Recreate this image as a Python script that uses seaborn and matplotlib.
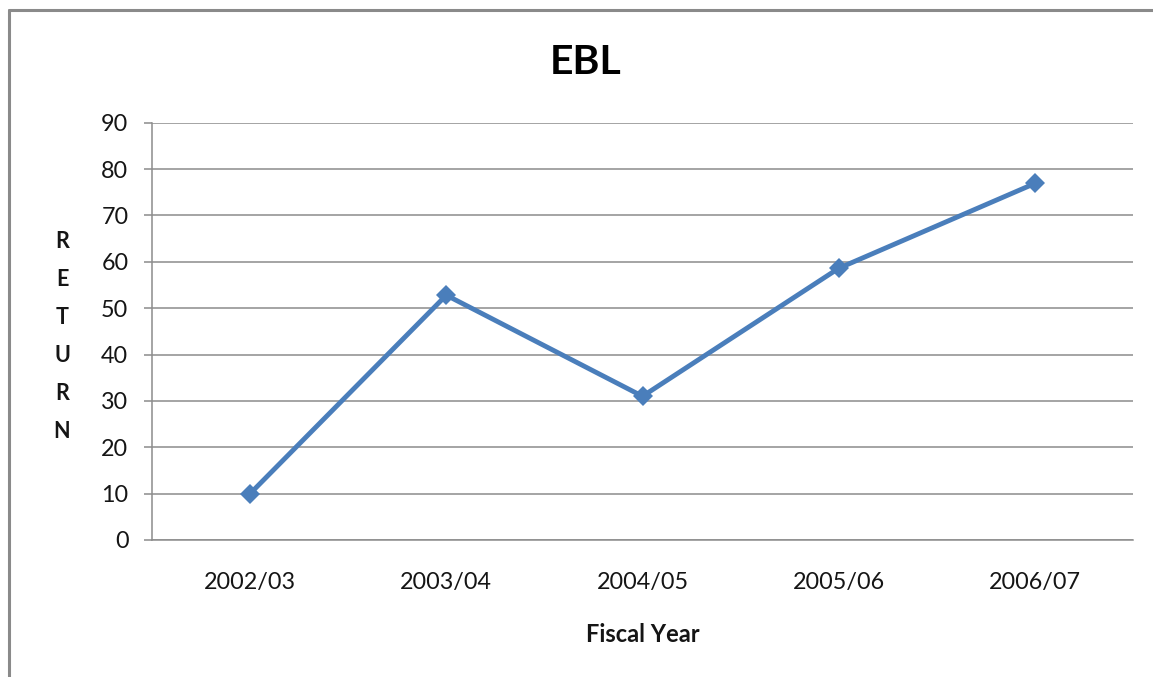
import matplotlib
matplotlib.use("Agg")
import matplotlib.pyplot as plt
from matplotlib.lines import Line2D
from matplotlib.ticker import FixedLocator
import seaborn as sns
import pandas as pd

# Annual return of EBL by fiscal year
fiscal_years = ["2002/03", "2003/04", "2004/05", "2005/06", "2006/07"]
returns = [10.0, 52.8, 31.0, 58.6, 76.9]
y_ticks = [0, 10, 20, 30, 40, 50, 60, 70, 80, 90]

sns.set_theme(style="white")
plt.rcParams["font.family"] = ["Lato", "DejaVu Sans"]

df = pd.DataFrame({"Fiscal Year": fiscal_years, "Return": returns})

fig = plt.figure(figsize=(11.53, 6.77), dpi=100)
ax = fig.add_axes([152 / 1153, 1 - 540 / 677, (1133 - 152) / 1153, (540 - 122.7) / 677])

grid_color = "#8c8c8c"
line_color = "#4a7ebb"
text_color = "#151515"

sns.lineplot(data=df, x="Fiscal Year", y="Return", ax=ax, sort=False,
             color=line_color, linewidth=3.5, marker="D", markersize=9.8,
             markeredgewidth=0, markerfacecolor=line_color, zorder=3)

ax.set_xlim(-0.5, len(fiscal_years) - 0.5)
ax.set_ylim(0, 90)
ax.set_yticks(y_ticks)
ax.yaxis.grid(True, color=grid_color, linewidth=1.1)
ax.xaxis.grid(False)

for side in ("top", "right"):
    ax.spines[side].set_visible(False)
for side in ("left", "bottom"):
    ax.spines[side].set_color(grid_color)
    ax.spines[side].set_linewidth(1.1)

# category boundaries carry the tick marks, labels sit at category centres
ax.xaxis.set_minor_locator(FixedLocator([i - 0.5 for i in range(len(fiscal_years) + 1)]))
ax.tick_params(axis="x", which="minor", length=6, width=1.1, color=grid_color, direction="out")
ax.tick_params(axis="x", which="major", length=0, pad=23, labelsize=16.8, labelcolor=text_color)
ax.tick_params(axis="y", which="major", length=6, width=1.1, color=grid_color, direction="out",
               left=True, pad=11, labelsize=16.8, labelcolor=text_color)

ax.set_xlabel("Fiscal Year", fontsize=17, fontweight="bold", labelpad=22, color=text_color)
ax.set_ylabel("")

fig.text(62 / 1153, 1 - 337 / 677, "\n".join("RETURN"), ha="center", va="center",
         fontsize=15.5, fontweight="bold", linespacing=2.0, color=text_color)
fig.text(586 / 1153, 1 - 62 / 677, "EBL", ha="center", va="center",
         fontsize=29.5, fontweight="bold", color="#000000")

# outer chart frame
frame_color = "#8a8a8a"
fig.add_artist(Line2D([9 / 1153, 1.0], [1 - 10 / 677, 1 - 10 / 677],
                      transform=fig.transFigure, color=frame_color, linewidth=2.2))
fig.add_artist(Line2D([9 / 1153, 9 / 1153], [0.0, 1 - 10 / 677],
                      transform=fig.transFigure, color=frame_color, linewidth=2.2))

fig.savefig("out.png", dpi=100, facecolor="white")
